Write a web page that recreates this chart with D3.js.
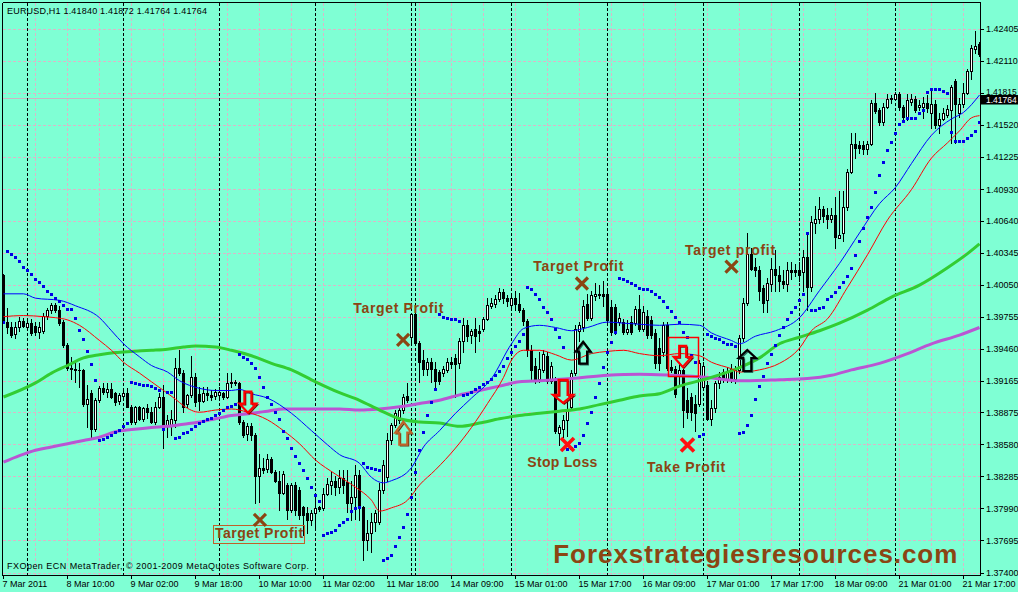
<!DOCTYPE html>
<html><head><meta charset="utf-8">
<script src="https://cdn.jsdelivr.net/npm/d3@7"></script>
<style>html,body{margin:0;padding:0;background:#7fffd4;}svg{display:block}</style>
</head><body><svg id="c" width="1018" height="592"></svg>
<script>
// ---------------- DATA ----------------
const symbolTitle = "EURUSD,H1  1.41840 1.41872 1.41764 1.41764";
const copyrightText = "FXOpen ECN MetaTrader, \u00a9 2001-2009 MetaQuotes Software Corp.";
const watermarkText = "Forexstrategiesresources.com";
const currentPrice = 1.41764;
const priceTicks = [1.42405,1.42110,1.41815,1.41520,1.41225,1.40930,1.40640,1.40345,1.40050,1.39755,1.39460,1.39165,1.38875,1.38580,1.38285,1.37990,1.37695,1.37400];
const timeLabelBars = [0,16,32,48,64,80,96,112,128,144,160,176,192,208,224,240];
const timeLabels = ["7 Mar 2011","8 Mar 10:00","9 Mar 02:00","9 Mar 18:00","10 Mar 10:00","11 Mar 02:00","11 Mar 18:00","14 Mar 09:00","15 Mar 01:00","15 Mar 17:00","16 Mar 09:00","17 Mar 01:00","17 Mar 17:00","18 Mar 09:00","21 Mar 01:00","21 Mar 17:00"];
const daySeparatorBars = [6,30,54,78,102,103,127,151,175,199,223];

const open = [1.4014,1.3971,1.3966,1.3960,1.3966,1.3972,1.3966,1.3970,1.3967,1.3962,
1.3963,1.3977,1.3982,1.3987,1.3982,1.3971,1.3950,1.3929,1.3928,1.3927,
1.3927,1.3896,1.3906,1.3873,1.3899,1.3910,1.3907,1.3909,1.3906,1.3898,
1.3903,1.3906,1.3893,1.3879,1.3893,1.3882,1.3892,1.3888,1.3879,1.3893,
1.3902,1.3876,1.3876,1.3881,1.3929,1.3924,1.3896,1.3904,1.3920,1.3905,
1.3898,1.3906,1.3904,1.3903,1.3904,1.3906,1.3902,1.3915,1.3916,1.3915,
1.3879,1.3868,1.3875,1.3867,1.3829,1.3837,1.3836,1.3845,1.3833,1.3825,
1.3814,1.3821,1.3798,1.3821,1.3816,1.3801,1.3795,1.3789,1.3795,1.3801,
1.3800,1.3813,1.3821,1.3825,1.3819,1.3827,1.3824,1.3804,1.3810,1.3830,
1.3801,1.3770,1.3777,1.3787,1.3787,1.3816,1.3828,1.3862,1.3876,1.3881,
1.3890,1.3903,1.3957,1.3978,1.3952,1.3936,1.3928,1.3934,1.3928,1.3925,
1.3924,1.3927,1.3934,1.3938,1.3933,1.3954,1.3968,1.3959,1.3965,1.3963,
1.3965,1.3974,1.3986,1.3988,1.3992,1.3999,1.3993,1.3987,1.3993,1.3988,
1.3982,1.3972,1.3945,1.3931,1.3919,1.3927,1.3940,1.3917,1.3917,1.3869,
1.3873,1.3881,1.3893,1.3924,1.3963,1.3966,1.3988,1.3975,1.3995,1.3997,
1.3997,1.3997,1.3985,1.3985,1.3971,1.3971,1.3962,1.3971,1.3970,1.3983,
1.3965,1.3977,1.3973,1.3961,1.3947,1.3943,1.3968,1.3930,1.3928,1.3922,
1.3927,1.3899,1.3902,1.3896,1.3896,1.3911,1.3913,1.3882,1.3892,1.3915,
1.3925,1.3919,1.3928,1.3919,1.3927,1.3956,1.3989,1.4034,1.4022,1.4019,
1.4002,1.3991,1.4006,1.4020,1.4014,1.4009,1.4006,1.4019,1.4019,1.4019,
1.4017,1.4031,1.4003,1.4062,1.4066,1.4075,1.4070,1.4066,1.4070,1.4048,
1.4053,1.4077,1.4109,1.4135,1.4134,1.4134,1.4130,1.4135,1.4173,1.4166,
1.4155,1.4169,1.4176,1.4176,1.4181,1.4169,1.4160,1.4174,1.4176,1.4169,
1.4169,1.4173,1.4163,1.4172,1.4152,1.4158,1.4162,1.4166,1.4193,1.4163,
1.4172,1.4182,1.4202,1.4222,1.4227];
const high = [1.4015,1.3984,1.3971,1.3971,1.3976,1.3975,1.3972,1.3974,1.3971,1.3971,
1.3979,1.3984,1.3989,1.3989,1.3986,1.3973,1.3952,1.3939,1.3936,1.3933,
1.3928,1.3913,1.3908,1.3901,1.3912,1.3915,1.3915,1.3915,1.3907,1.3906,
1.3910,1.3910,1.3895,1.3894,1.3894,1.3893,1.3896,1.3893,1.3897,1.3906,
1.3913,1.3885,1.3890,1.3938,1.3945,1.3927,1.3905,1.3940,1.3924,1.3911,
1.3911,1.3911,1.3908,1.3909,1.3911,1.3907,1.3924,1.3924,1.3918,1.3916,
1.3881,1.3878,1.3878,1.3869,1.3850,1.3846,1.3850,1.3847,1.3835,1.3834,
1.3834,1.3823,1.3823,1.3824,1.3819,1.3802,1.3801,1.3798,1.3814,1.3802,
1.3818,1.3827,1.3833,1.3829,1.3835,1.3835,1.3835,1.3825,1.3839,1.3835,
1.3802,1.3789,1.3795,1.3798,1.3823,1.3844,1.3869,1.3878,1.3890,1.3894,
1.3905,1.3915,1.3979,1.3980,1.3954,1.3945,1.3938,1.3938,1.3934,1.3927,
1.3931,1.3938,1.3939,1.3942,1.3956,1.3975,1.3973,1.3965,1.3975,1.3968,
1.3976,1.3993,1.3993,1.3996,1.4002,1.4001,1.3996,1.3997,1.4000,1.3998,
1.3984,1.3974,1.3950,1.3938,1.3943,1.3945,1.3943,1.3934,1.3920,1.3876,
1.3885,1.3899,1.3927,1.3968,1.3971,1.3991,1.3997,1.4000,1.4007,1.4005,
1.4009,1.4002,1.3991,1.3988,1.3979,1.3974,1.3973,1.3977,1.3986,1.3996,
1.3986,1.3982,1.3977,1.3965,1.3956,1.3971,1.3971,1.3936,1.3931,1.3934,
1.3928,1.3910,1.3906,1.3904,1.3936,1.3934,1.3917,1.3899,1.3917,1.3925,
1.3928,1.3930,1.3932,1.3931,1.3959,1.3993,1.4053,1.4039,1.4030,1.4023,
1.4005,1.4012,1.4030,1.4037,1.4023,1.4019,1.4026,1.4026,1.4024,1.4026,
1.4037,1.4053,1.4069,1.4078,1.4086,1.4078,1.4076,1.4076,1.4086,1.4092,
1.4092,1.4112,1.4145,1.4145,1.4138,1.4138,1.4138,1.4175,1.4182,1.4168,
1.4173,1.4181,1.4180,1.4183,1.4183,1.4171,1.4181,1.4181,1.4179,1.4175,
1.4178,1.4180,1.4184,1.4175,1.4163,1.4168,1.4171,1.4189,1.4195,1.4177,
1.4191,1.4204,1.4226,1.4239,1.4229];
const low = [1.3970,1.3961,1.3957,1.3956,1.3963,1.3966,1.3965,1.3959,1.3959,1.3956,
1.3961,1.3974,1.3979,1.3980,1.3968,1.3948,1.3927,1.3919,1.3916,1.3911,
1.3894,1.3874,1.3865,1.3871,1.3897,1.3905,1.3902,1.3901,1.3895,1.3896,
1.3900,1.3893,1.3877,1.3877,1.3881,1.3880,1.3883,1.3878,1.3877,1.3892,
1.3855,1.3865,1.3867,1.3874,1.3922,1.3888,1.3893,1.3902,1.3894,1.3890,
1.3897,1.3899,1.3899,1.3900,1.3901,1.3900,1.3901,1.3911,1.3913,1.3877,
1.3865,1.3862,1.3862,1.3804,1.3805,1.3832,1.3833,1.3832,1.3824,1.3798,
1.3813,1.3790,1.3796,1.3793,1.3790,1.3775,1.3777,1.3784,1.3782,1.3797,
1.3798,1.3812,1.3813,1.3812,1.3814,1.3814,1.3796,1.3789,1.3790,1.3789,
1.3752,1.3761,1.3759,1.3779,1.3785,1.3814,1.3825,1.3859,1.3874,1.3878,
1.3887,1.3897,1.3950,1.3951,1.3916,1.3922,1.3922,1.3916,1.3910,1.3914,
1.3921,1.3925,1.3929,1.3902,1.3929,1.3943,1.3954,1.3952,1.3943,1.3954,
1.3963,1.3973,1.3984,1.3985,1.3990,1.3989,1.3986,1.3982,1.3982,1.3980,
1.3968,1.3940,1.3919,1.3915,1.3916,1.3925,1.3915,1.3915,1.3869,1.3858,
1.3865,1.3866,1.3890,1.3922,1.3954,1.3963,1.3973,1.3973,1.3991,1.3993,
1.3986,1.3971,1.3959,1.3960,1.3968,1.3960,1.3960,1.3960,1.3968,1.3963,
1.3963,1.3956,1.3956,1.3929,1.3927,1.3940,1.3927,1.3925,1.3902,1.3913,
1.3874,1.3883,1.3881,1.3871,1.3894,1.3908,1.3881,1.3876,1.3888,1.3910,
1.3916,1.3916,1.3916,1.3915,1.3924,1.3954,1.3987,1.4019,1.4013,1.3991,
1.3980,1.3980,1.4000,1.4000,1.4000,1.4002,1.4000,1.4011,1.4013,1.4009,
1.4000,1.3982,1.4000,1.4053,1.4062,1.4063,1.4058,1.4063,1.4039,1.4048,
1.4046,1.4074,1.4108,1.4122,1.4127,1.4126,1.4126,1.4134,1.4163,1.4152,
1.4152,1.4168,1.4173,1.4175,1.4166,1.4157,1.4157,1.4171,1.4164,1.4166,
1.4159,1.4164,1.4150,1.4150,1.4145,1.4157,1.4160,1.4136,1.4136,1.4160,
1.4169,1.4181,1.4195,1.4219,1.4216];
const close = [1.3971,1.3966,1.3959,1.3966,1.3972,1.3967,1.3970,1.3961,1.3962,1.3966,
1.3977,1.3982,1.3987,1.3982,1.3970,1.3950,1.3929,1.3928,1.3927,1.3927,
1.3896,1.3900,1.3873,1.3899,1.3910,1.3907,1.3909,1.3902,1.3897,1.3904,
1.3906,1.3893,1.3879,1.3893,1.3882,1.3892,1.3888,1.3879,1.3893,1.3902,
1.3874,1.3881,1.3882,1.3929,1.3924,1.3893,1.3904,1.3920,1.3897,1.3898,
1.3906,1.3904,1.3902,1.3907,1.3907,1.3902,1.3915,1.3916,1.3915,1.3879,
1.3867,1.3875,1.3867,1.3829,1.3837,1.3835,1.3845,1.3833,1.3825,1.3814,
1.3831,1.3798,1.3821,1.3798,1.3793,1.3793,1.3789,1.3795,1.3800,1.3799,
1.3813,1.3822,1.3825,1.3819,1.3827,1.3821,1.3804,1.3810,1.3830,1.3801,
1.3770,1.3777,1.3787,1.3795,1.3816,1.3839,1.3862,1.3876,1.3887,1.3890,
1.3902,1.3899,1.3978,1.3952,1.3934,1.3928,1.3934,1.3928,1.3917,1.3917,
1.3928,1.3934,1.3932,1.3932,1.3954,1.3968,1.3958,1.3963,1.3958,1.3961,
1.3974,1.3987,1.3989,1.3992,1.3999,1.3993,1.3990,1.3993,1.3988,1.3982,
1.3972,1.3945,1.3927,1.3919,1.3928,1.3942,1.3917,1.3931,1.3871,1.3874,
1.3881,1.3890,1.3924,1.3965,1.3968,1.3986,1.3975,1.3996,1.3997,1.3996,
1.3995,1.3973,1.3962,1.3962,1.3975,1.3962,1.3965,1.3962,1.3983,1.3965,
1.3980,1.3959,1.3959,1.3933,1.3933,1.3968,1.3929,1.3927,1.3905,1.3927,
1.3890,1.3888,1.3888,1.3887,1.3933,1.3931,1.3882,1.3892,1.3915,1.3920,
1.3919,1.3925,1.3919,1.3927,1.3956,1.3989,1.4034,1.4020,1.4019,1.4000,
1.3989,1.4007,1.4020,1.4014,1.4009,1.4006,1.4019,1.4017,1.4017,1.4014,
1.4031,1.4003,1.4063,1.4066,1.4075,1.4069,1.4066,1.4070,1.4049,1.4051,
1.4077,1.4109,1.4135,1.4131,1.4131,1.4130,1.4135,1.4173,1.4165,1.4155,
1.4169,1.4176,1.4177,1.4181,1.4169,1.4160,1.4175,1.4176,1.4166,1.4171,
1.4173,1.4168,1.4172,1.4152,1.4158,1.4163,1.4167,1.4187,1.4172,1.4172,
1.4182,1.4202,1.4223,1.4225,1.4218];
const sar = [1.3971,1.4036,1.4034,1.4031,1.4027,1.4022,1.4019,1.4015,1.4011,1.4008,
1.4004,1.4000,1.3997,1.3993,1.3990,1.3987,1.3983,1.3983,1.3975,1.3964,
1.3955,1.3944,1.3932,1.3918,1.3862,1.3863,1.3865,1.3867,1.3870,1.3872,
1.3875,1.3878,1.3916,1.3915,1.3914,1.3913,1.3913,1.3912,1.3910,1.3908,
1.3873,1.3907,1.3907,1.3864,1.3865,1.3869,1.3870,1.3873,1.3875,1.3878,
1.3880,1.3882,1.3883,1.3885,1.3887,1.3890,1.3893,1.3894,1.3896,1.3942,
1.3939,1.3937,1.3933,1.3929,1.3920,1.3911,1.3902,1.3896,1.3888,1.3882,
1.3871,1.3864,1.3855,1.3848,1.3841,1.3835,1.3827,1.3819,1.3812,1.3806,
1.3775,1.3777,1.3778,1.3780,1.3784,1.3787,1.3790,1.3797,1.3800,1.3801,
1.3841,1.3838,1.3837,1.3836,1.3835,1.3752,1.3754,1.3757,1.3765,1.3773,
1.3782,1.3794,1.3810,1.3833,1.3853,1.3870,1.3885,1.3897,1.3909,1.3978,
1.3976,1.3975,1.3974,1.3974,1.3972,1.3904,1.3905,1.3907,1.3909,1.3911,
1.3914,1.3916,1.3919,1.3922,1.3926,1.3931,1.3938,1.3943,1.3949,1.3954,
1.3960,1.4003,1.4001,1.3997,1.3992,1.3985,1.3980,1.3974,1.3965,1.3957,
1.3948,1.3854,1.3855,1.3857,1.3860,1.3867,1.3878,1.3888,1.3902,1.3915,
1.3930,1.3943,1.3953,1.3962,1.4012,1.4011,1.4009,1.4007,1.4005,1.4002,
1.4001,1.4001,1.4000,1.3997,1.3994,1.3990,1.3985,1.3981,1.3976,1.3971,
1.3962,1.3957,1.3941,1.3934,1.3866,1.3868,1.3960,1.3958,1.3956,1.3955,
1.3953,1.3951,1.3951,1.3949,1.3869,1.3870,1.3876,1.3885,1.3900,1.3912,
1.3921,1.3933,1.3942,1.3950,1.3959,1.3966,1.3974,1.3980,1.3985,1.3991,
1.3997,1.4053,1.3982,1.3982,1.3984,1.3985,1.3992,1.3995,1.3999,1.4003,
1.4008,1.4013,1.4021,1.4033,1.4046,1.4058,1.4068,1.4077,1.4091,1.4106,
1.4118,1.4129,1.4137,1.4145,1.4153,1.4156,1.4159,1.4159,1.4159,1.4163,
1.4166,1.4183,1.4186,1.4186,1.4186,1.4184,1.4182,1.4146,1.4138,1.4138,
1.4138,1.4140,1.4143,1.4147,1.4155];

// moving averages (bar index, value)
const maBlueBars = [0,5,8,14,18,24,27,30,34,37,41,44,49,53,57,59,62,66,72,77,81,84,89,92,95,97,102,105,109,113,117,122,127,130,134,138,142,146,151,155,159,164,169,174,177,182,184,188,193,199,204,209,214,219,223,227,232,237,240,244];
const maBlueVals = [1.3997,1.3997,1.3993,1.3991,1.3986,1.3975,1.3963,1.3951,1.3939,1.3931,1.3925,1.3917,1.3910,1.3908,1.3908,1.3909,1.3905,1.3901,1.3887,1.3871,1.3858,1.3849,1.3841,1.3828,1.3823,1.3825,1.3837,1.3856,1.3871,1.3887,1.3901,1.3919,1.3951,1.3965,1.3968,1.3966,1.3963,1.3966,1.3971,1.3970,1.3969,1.3968,1.3969,1.3968,1.3961,1.3954,1.3951,1.3958,1.3963,1.3975,1.4000,1.4025,1.4053,1.4080,1.4095,1.4117,1.4143,1.4158,1.4164,1.4180];
const maRedBars = [0,5,10,13,16,19,24,27,30,34,37,40,43,45,49,53,57,61,66,70,74,78,83,88,92,94,97,101,104,108,113,117,121,125,127,130,134,138,142,147,151,155,159,164,169,174,177,182,184,189,194,199,202,206,211,216,221,227,232,236,239,242,244];
const maRedVals = [1.3976,1.3977,1.3976,1.3975,1.3973,1.3968,1.3954,1.3945,1.3934,1.3924,1.3916,1.3908,1.3900,1.3894,1.3888,1.3890,1.3891,1.3888,1.3881,1.3871,1.3859,1.3844,1.3831,1.3819,1.3807,1.3797,1.3800,1.3807,1.3821,1.3835,1.3855,1.3874,1.3896,1.3920,1.3936,1.3945,1.3945,1.3941,1.3936,1.3942,1.3944,1.3945,1.3942,1.3940,1.3942,1.3940,1.3934,1.3928,1.3925,1.3927,1.3933,1.3947,1.3963,1.3974,1.4003,1.4033,1.4065,1.4093,1.4122,1.4136,1.4147,1.4159,1.4161];
const maGreenBars = [0,8,12,16,20,24,28,32,37,41,45,48,53,57,62,67,72,78,84,89,94,99,104,109,114,119,124,129,134,139,144,149,154,159,164,169,176,184,189,194,199,204,209,216,222,229,236,241,244];
const maGreenVals = [1.3902,1.3915,1.3924,1.3931,1.3938,1.3941,1.3943,1.3944,1.3945,1.3946,1.3948,1.3949,1.3948,1.3945,1.3940,1.3933,1.3927,1.3916,1.3906,1.3899,1.3890,1.3882,1.3879,1.3878,1.3875,1.3878,1.3882,1.3885,1.3887,1.3889,1.3891,1.3895,1.3899,1.3903,1.3905,1.3912,1.3919,1.3929,1.3938,1.3951,1.3957,1.3963,1.3970,1.3982,1.3994,1.4005,1.4021,1.4034,1.4043];
const maPurpleBars = [0,4,8,12,16,20,24,28,32,37,41,45,49,53,57,62,66,70,74,78,84,89,94,99,104,109,114,119,124,129,134,142,151,159,167,176,184,194,201,207,212,219,226,232,239,244];
const maPurpleVals = [1.3842,1.3848,1.3853,1.3856,1.3859,1.3862,1.3865,1.3870,1.3872,1.3874,1.3875,1.3877,1.3879,1.3882,1.3885,1.3887,1.3889,1.3891,1.3891,1.3891,1.3891,1.3890,1.3891,1.3893,1.3896,1.3899,1.3904,1.3908,1.3912,1.3916,1.3917,1.3919,1.3922,1.3923,1.3922,1.3920,1.3917,1.3918,1.3919,1.3922,1.3927,1.3933,1.3942,1.3951,1.3959,1.3966];

// annotations (anchored by bar index and price)
const noteTexts = ["Target Profit","Target Profit","Target profit","Stop Loss","Take Profit","Target Profit"];
const noteBars = [87.45,132.45,170.4,130.95,160.9,52.9];
const notePrices = [1.39793,1.40180,1.40323,1.38373,1.38334,1.37725];
const crossBars = [99.9,144.6,182.0,64.1,141.0,171.0];
const crossPrices = [1.39545,1.40065,1.40221,1.37888,1.38583,1.38578];
const crossKinds = ["target","target","target","target","loss","loss"];
const arrowBars = [61.1,99.95,139.9,144.9,169.8,185.95];
const arrowPrices = [1.39069,1.38793,1.39177,1.39529,1.39490,1.39453];
const arrowDirs = ["down","up","down","up","down","up"];
const boxBars = [[166.2,173.7],[52.6,75.3]];
const boxPrices = [[1.39570,1.39207],[1.37839,1.37673]];
const watermarkBar = 137.45, watermarkPrice = 1.37495;

// ---------------- DRAW ----------------
const W = 1018, H = 592;
const L = 2.5, T = 2.5, R = 980.5, B = 575.5;
const FONT = "'Liberation Sans', Arial, sans-serif";
const svg = d3.select('#c');
const x = d3.scaleLinear().domain([0, 244]).range([3.5, 979.5]);
const y = d3.scaleLinear().domain([1.37400, 1.42405]).range([573, 29.3]);
const crisp = v => Math.round(v - 0.5) + 0.5;

svg.append('rect').attr('width', W).attr('height', H).attr('fill', '#7fffd4');
svg.append('defs').append('clipPath').attr('id', 'plot')
  .append('rect').attr('x', L).attr('y', T).attr('width', R - L).attr('height', B - T);
const g = svg.append('g').attr('clip-path', 'url(#plot)');

const GRID = '#dbb6c8';
g.append('g').selectAll('line').data(priceTicks).join('line')
  .attr('x1', L).attr('x2', R)
  .attr('y1', d => crisp(y(d))).attr('y2', d => crisp(y(d)))
  .attr('stroke', GRID).attr('stroke-dasharray', '3,2').attr('shape-rendering', 'crispEdges');
const gridBars = d3.range(8, 244, 8);
g.append('g').selectAll('line').data(gridBars).join('line')
  .attr('x1', d => x(d)).attr('x2', d => x(d)).attr('y1', T).attr('y2', B)
  .attr('stroke', GRID).attr('stroke-dasharray', '3,2').attr('shape-rendering', 'crispEdges');
g.append('line').attr('x1', L).attr('x2', R)
  .attr('y1', crisp(y(currentPrice))).attr('y2', crisp(y(currentPrice)))
  .attr('stroke', '#cdb4c2').attr('shape-rendering', 'crispEdges');
g.append('g').selectAll('line').data(daySeparatorBars).join('line')
  .attr('x1', d => x(d)).attr('x2', d => x(d)).attr('y1', T).attr('y2', B)
  .attr('stroke', '#000').attr('stroke-dasharray', '3,2').attr('shape-rendering', 'crispEdges');

// candles
const bars = d3.range(close.length);
const cg = g.append('g').attr('shape-rendering', 'crispEdges');
cg.selectAll('line').data(bars).join('line')
  .attr('x1', i => x(i)).attr('x2', i => x(i))
  .attr('y1', i => Math.round(y(high[i]))).attr('y2', i => Math.round(y(low[i])) + 1)
  .attr('stroke', '#000');
bars.forEach(i => {
  const top = Math.round(y(Math.max(open[i], close[i])));
  const bot = Math.round(y(Math.min(open[i], close[i])));
  const cx = x(i);
  if (close[i] < open[i]) {
    cg.append('rect').attr('x', cx - 1.5).attr('y', top).attr('width', 3).attr('height', Math.max(1, bot - top + 1)).attr('fill', '#000');
  } else if (bot - top < 1) {
    cg.append('rect').attr('x', cx - 1.5).attr('y', top).attr('width', 3).attr('height', 1).attr('fill', '#000');
  } else {
    cg.append('rect').attr('x', cx - 1).attr('y', top + 0.5).attr('width', 2).attr('height', bot - top)
      .attr('fill', '#fff').attr('stroke', '#000').attr('stroke-width', 1);
  }
});

// moving averages
function maLine(bs, vs, color, width) {
  const pts = bs.map((b, k) => [b, vs[k]]);
  const line = d3.line().x(d => x(d[0])).y(d => y(d[1])).curve(d3.curveMonotoneX);
  g.append('path').attr('d', line(pts)).attr('fill', 'none').attr('stroke', color).attr('stroke-width', width)
    .attr('stroke-linejoin', 'round');
}
maLine(maPurpleBars, maPurpleVals, '#ba55d3', 3);
maLine(maGreenBars, maGreenVals, '#32cd32', 3);
maLine(maRedBars, maRedVals, '#ff0000', 1);
maLine(maBlueBars, maBlueVals, '#0000ff', 1);

// parabolic SAR
g.append('g').attr('shape-rendering', 'crispEdges').selectAll('rect').data(bars).join('rect')
  .attr('x', i => x(i) - 1.5).attr('y', i => Math.round(y(sar[i])) - 1)
  .attr('width', 3).attr('height', 3).attr('fill', '#0000e6');

// annotation boxes
const BROWN = '#8b4513';
boxBars.forEach((bb, k) => {
  const x0 = x(bb[0]), x1 = x(bb[1]), y0 = y(boxPrices[k][0]), y1 = y(boxPrices[k][1]);
  svg.append('rect').attr('x', crisp(x0)).attr('y', crisp(y0)).attr('width', Math.round(x1 - x0)).attr('height', Math.round(y1 - y0))
    .attr('fill', 'none').attr('stroke', k === 0 ? '#ff0000' : '#c0602a').attr('stroke-width', k === 0 ? 1.5 : 1);
});

// arrows (outlined, with a dark shadow like the Wingdings symbols)
function arrowPath(dir, sw, sh, hw, hh) {
  if (dir === 'down') {
    return `M${-sw/2},0 L${sw/2},0 L${sw/2},${sh} L${hw/2},${sh} L0,${sh+hh} L${-hw/2},${sh} L${-sw/2},${sh} Z`;
  }
  return `M0,0 L${hw/2},${hh} L${sw/2},${hh} L${sw/2},${hh+sh} L${-sw/2},${hh+sh} L${-sw/2},${hh} L${-hw/2},${hh} Z`;
}
const arrowStyle = [
  {c: '#ff0000', s: '#8b0000', sw: 7, sh: 12, hw: 17, hh: 9},
  {c: '#c0642a', s: '#6b3410', sw: 8, sh: 12, hw: 16, hh: 11},
  {c: '#ff0000', s: '#8b0000', sw: 9, sh: 15, hw: 20, hh: 8},
  {c: '#000000', s: '#2a6f60', sw: 8, sh: 12, hw: 15, hh: 10},
  {c: '#ff0000', s: '#8b0000', sw: 7, sh: 11, hw: 18, hh: 10},
  {c: '#000000', s: '#2a6f60', sw: 8, sh: 13, hw: 17, hh: 8}
];
arrowBars.forEach((b, k) => {
  const st = arrowStyle[k];
  const d = arrowPath(arrowDirs[k], st.sw, st.sh, st.hw, st.hh);
  svg.append('path').attr('transform', `translate(${x(b) + 1.2},${y(arrowPrices[k]) + 1.2})`)
    .attr('d', d).attr('fill', 'none').attr('stroke', st.s).attr('stroke-width', 1.4);
  svg.append('path').attr('transform', `translate(${x(b)},${y(arrowPrices[k])})`)
    .attr('d', d).attr('fill', 'none').attr('stroke', st.c).attr('stroke-width', 2.2).attr('stroke-linejoin', 'miter');
});

// crosses
crossBars.forEach((b, k) => {
  const cx = x(b), cy = y(crossPrices[k]);
  const red = crossKinds[k] === 'loss';
  const r = red ? 6.5 : 6;
  const col = red ? '#ff1010' : BROWN;
  svg.append('path').attr('d', `M${cx - r},${cy - r} L${cx + r},${cy + r} M${cx + r},${cy - r} L${cx - r},${cy + r}`)
    .attr('stroke', col).attr('stroke-width', red ? 3.6 : 3.2).attr('fill', 'none');
});

// note texts
const noteWidths = [90, 90, 90, 70, 78, 88];
noteTexts.forEach((t, k) => {
  svg.append('text').attr('x', x(noteBars[k])).attr('y', y(notePrices[k]))
    .attr('font-family', FONT).attr('font-weight', 'bold').attr('font-size', 14)
    .attr('fill', BROWN).attr('textLength', noteWidths[k]).attr('lengthAdjust', 'spacing').text(t);
});
svg.append('text').attr('x', x(watermarkBar)).attr('y', y(watermarkPrice))
  .attr('font-family', FONT).attr('font-weight', 'bold').attr('font-size', 26)
  .attr('fill', BROWN).attr('textLength', 404).attr('lengthAdjust', 'spacing').text(watermarkText);

// borders
const bd = svg.append('g').attr('stroke', '#000').attr('shape-rendering', 'crispEdges');
bd.append('line').attr('x1', L).attr('x2', L).attr('y1', T).attr('y2', B);
bd.append('line').attr('x1', L).attr('x2', R).attr('y1', T).attr('y2', T);
bd.append('line').attr('x1', R).attr('x2', R).attr('y1', T).attr('y2', B);
bd.append('line').attr('x1', L).attr('x2', R).attr('y1', B).attr('y2', B);

// right price axis
const ax = svg.append('g');
ax.selectAll('line').data(priceTicks).join('line')
  .attr('x1', R).attr('x2', R + 3).attr('y1', d => crisp(y(d))).attr('y2', d => crisp(y(d)))
  .attr('stroke', '#000').attr('shape-rendering', 'crispEdges');
const cpY = crisp(y(currentPrice));
ax.selectAll('text').data(priceTicks).join('text')
  .attr('x', 986)
  .attr('y', d => Math.abs(y(d) - cpY) < 12 ? Math.round(y(d)) + 1.5 : Math.round(y(d)) + 3)
  .attr('font-family', FONT).attr('font-size', d => Math.abs(y(d) - cpY) < 12 ? 8.5 : 9).attr('fill', '#000')
  .text(d => d.toFixed(5));
// current price marker
svg.append('rect').attr('x', 981).attr('y', cpY - 3.5).attr('width', 37).attr('height', 9.5).attr('fill', '#000');
svg.append('text').attr('x', 986).attr('y', cpY + 4.5).attr('font-family', FONT).attr('font-size', 8.5)
  .attr('fill', '#fff').text(currentPrice.toFixed(5));

// bottom time axis
const bx = svg.append('g');
bx.selectAll('line').data(timeLabelBars).join('line')
  .attr('x1', d => x(d)).attr('x2', d => x(d)).attr('y1', B).attr('y2', B + 3)
  .attr('stroke', '#000').attr('shape-rendering', 'crispEdges');
bx.selectAll('text').data(timeLabelBars).join('text')
  .attr('x', d => x(d) - 1).attr('y', 587)
  .attr('font-family', FONT).attr('font-size', 9).attr('fill', '#000')
  .text((d, k) => timeLabels[k]);

// title and copyright
svg.append('text').attr('x', 7).attr('y', 14).attr('font-family', FONT).attr('font-size', 9).attr('fill', '#000')
  .attr('textLength', 200).attr('lengthAdjust', 'spacing').text(symbolTitle);
svg.append('text').attr('x', 7).attr('y', 568.5).attr('font-family', FONT).attr('font-size', 9).attr('fill', '#000')
  .attr('textLength', 302).attr('lengthAdjust', 'spacing').text(copyrightText);
</script>
</body></html>
